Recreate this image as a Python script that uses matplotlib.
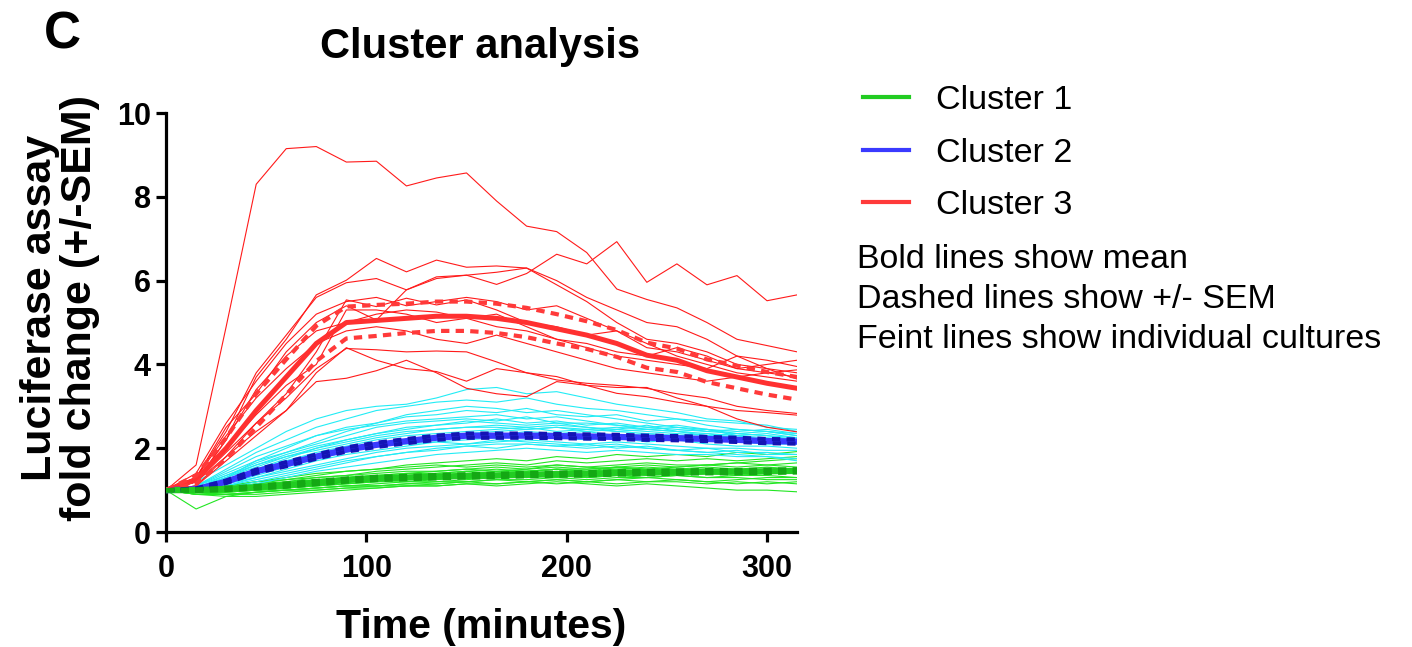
import matplotlib
matplotlib.use("Agg")
import matplotlib.pyplot as plt
from matplotlib.lines import Line2D
import numpy as np

plt.rcParams['font.family'] = ['Liberation Sans', 'DejaVu Sans']

time_min = [0, 15, 30, 45, 60, 75, 90, 105, 120, 135, 150, 165, 180, 195, 210, 225, 240, 255, 270, 285, 300, 315]

# Cluster 3 (red) individual cultures
cluster3_lines = [
    [1.0, 1.6, 4.9, 8.3, 9.15, 9.2, 8.83, 8.85, 8.26, 8.45, 8.57, 7.9, 7.3, 7.17, 6.67, 5.8, 5.55, 5.35, 5.0, 4.6, 4.45, 4.3],
    [1.0, 1.3, 2.4, 3.8, 4.7, 5.6, 5.95, 6.05, 5.78, 6.05, 6.13, 5.91, 6.17, 6.63, 6.4, 6.93, 5.96, 6.4, 5.9, 6.12, 5.52, 5.66],
    [1.0, 1.2, 2.2, 3.7, 4.6, 5.66, 6.01, 6.53, 6.21, 6.49, 6.32, 6.35, 6.3, 6.0, 5.6, 5.3, 5.0, 4.9, 4.6, 4.2, 3.9, 3.65],
    [1.0, 1.3, 2.5, 3.3, 4.3, 5.0, 5.4, 5.06, 5.78, 6.09, 6.13, 6.2, 6.3, 5.9, 5.5, 5.0, 4.6, 4.5, 4.3, 4.0, 3.9, 3.8],
    [1.0, 1.1, 1.8, 2.6, 3.3, 4.3, 5.54, 5.38, 5.58, 5.42, 5.54, 5.3, 5.0, 4.9, 4.7, 4.8, 4.5, 4.2, 4.0, 3.8, 3.7, 3.6],
    [1.0, 1.2, 2.0, 2.8, 3.5, 4.0, 5.3, 5.3, 5.2, 5.0, 5.1, 5.2, 4.9, 4.6, 4.4, 4.2, 4.1, 4.0, 3.9, 4.2, 4.1, 3.95],
    [1.0, 1.3, 2.3, 3.2, 3.9, 4.5, 4.8, 4.9, 4.8, 4.6, 4.5, 4.7, 4.5, 4.3, 4.1, 3.9, 3.8, 3.7, 3.6, 3.7, 3.8, 3.87],
    [1.0, 1.2, 1.9, 2.6, 3.2, 3.9, 4.38, 4.35, 4.3, 4.32, 4.3, 4.06, 3.8, 3.71, 3.5, 3.31, 3.23, 3.1, 3.0, 2.9, 2.85, 2.79],
    [1.0, 1.1, 1.7, 2.3, 2.9, 3.8, 4.4, 4.1, 3.9, 3.83, 3.6, 3.9, 3.8, 3.63, 3.55, 3.5, 3.43, 3.3, 3.2, 3.0, 2.9, 2.83],
    [1.0, 1.2, 1.8, 2.4, 2.9, 3.59, 3.67, 3.85, 4.1, 3.8, 3.43, 3.3, 3.23, 3.59, 3.5, 3.45, 3.45, 3.2, 3.0, 2.7, 2.5, 2.39],
    [1.0, 1.4, 2.6, 3.6, 4.5, 5.2, 5.5, 5.6, 5.4, 5.5, 5.6, 5.5, 5.3, 5.4, 5.1, 4.8, 4.4, 4.3, 4.1, 3.9, 3.8, 3.7],
    [1.0, 1.2, 2.2, 3.4, 4.2, 4.8, 5.0, 5.2, 5.3, 5.25, 5.1, 4.9, 4.8, 4.6, 4.5, 4.3, 4.2, 4.4, 4.2, 3.9, 4.0, 4.1],
]

# Cluster 2 (cyan) individual cultures
cluster2_lines = [
    [1.0, 1.2, 1.6, 2.0, 2.4, 2.7, 2.9, 3.0, 3.05, 3.2, 3.4, 3.45, 3.3, 3.35, 3.2, 3.05, 2.95, 2.85, 2.7, 2.65, 2.5, 2.45],
    [1.0, 1.1, 1.5, 1.9, 2.2, 2.5, 2.7, 2.9, 3.0, 3.1, 3.15, 3.1, 3.2, 3.05, 2.95, 2.9, 2.8, 2.7, 2.65, 2.6, 2.55, 2.4],
    [1.0, 1.05, 1.3, 1.7, 2.0, 2.3, 2.5, 2.6, 2.75, 2.8, 2.9, 2.85, 2.95, 2.8, 2.75, 2.8, 2.65, 2.7, 2.55, 2.45, 2.4, 2.35],
    [1.0, 1.1, 1.4, 1.7, 1.9, 2.1, 2.3, 2.5, 2.6, 2.65, 2.7, 2.65, 2.75, 2.6, 2.6, 2.55, 2.5, 2.45, 2.4, 2.35, 2.3, 2.25],
    [1.0, 1.0, 1.25, 1.5, 1.75, 2.0, 2.2, 2.35, 2.5, 2.55, 2.6, 2.7, 2.6, 2.65, 2.55, 2.6, 2.5, 2.55, 2.45, 2.4, 2.45, 2.35],
    [1.0, 1.05, 1.3, 1.55, 1.8, 1.95, 2.1, 2.25, 2.35, 2.45, 2.5, 2.5, 2.45, 2.5, 2.4, 2.45, 2.4, 2.35, 2.3, 2.35, 2.3, 2.2],
    [1.0, 1.0, 1.2, 1.45, 1.7, 1.9, 2.05, 2.2, 2.3, 2.35, 2.4, 2.45, 2.5, 2.4, 2.45, 2.4, 2.35, 2.3, 2.35, 2.25, 2.2, 2.15],
    [1.0, 1.0, 1.15, 1.35, 1.55, 1.75, 1.9, 2.05, 2.15, 2.25, 2.3, 2.35, 2.3, 2.35, 2.3, 2.25, 2.3, 2.2, 2.2, 2.15, 2.1, 2.1],
    [1.0, 0.95, 1.1, 1.3, 1.5, 1.7, 1.85, 1.95, 2.05, 2.15, 2.2, 2.25, 2.3, 2.25, 2.2, 2.25, 2.15, 2.2, 2.1, 2.05, 2.05, 2.0],
    [1.0, 1.0, 1.15, 1.3, 1.45, 1.6, 1.75, 1.9, 2.0, 2.05, 2.1, 2.15, 2.2, 2.15, 2.1, 2.15, 2.1, 2.05, 2.0, 2.0, 1.95, 1.95],
    [1.0, 0.95, 1.05, 1.2, 1.35, 1.5, 1.65, 1.8, 1.9, 1.95, 2.05, 2.1, 2.1, 2.05, 2.1, 2.0, 2.05, 1.95, 1.9, 1.95, 1.85, 1.85],
    [1.0, 0.95, 1.05, 1.15, 1.3, 1.45, 1.55, 1.65, 1.75, 1.85, 1.9, 1.95, 2.0, 1.95, 1.9, 1.95, 1.9, 1.85, 1.85, 1.8, 1.8, 1.75],
    [1.0, 1.05, 1.35, 1.65, 1.9, 2.15, 2.4, 2.6, 2.8, 2.9, 3.0, 2.95, 2.85, 2.9, 2.8, 2.7, 2.6, 2.5, 2.45, 2.3, 2.25, 2.2],
    [1.0, 1.1, 1.45, 1.8, 2.05, 2.3, 2.45, 2.55, 2.65, 2.7, 2.75, 2.8, 2.7, 2.75, 2.65, 2.55, 2.45, 2.4, 2.3, 2.25, 2.2, 2.1],
    [1.0, 1.0, 1.2, 1.4, 1.6, 1.8, 1.95, 2.05, 2.1, 2.15, 2.1, 2.2, 2.15, 2.1, 2.05, 2.1, 2.0, 1.95, 1.9, 1.85, 1.8, 1.7],
    [1.0, 1.05, 1.25, 1.5, 1.7, 1.85, 2.0, 2.1, 2.2, 2.3, 2.35, 2.4, 2.45, 2.5, 2.45, 2.5, 2.45, 2.5, 2.4, 2.45, 2.4, 2.3],
    [1.0, 1.0, 1.2, 1.45, 1.65, 1.8, 1.95, 2.1, 2.2, 2.3, 2.35, 2.3, 2.4, 2.35, 2.4, 2.3, 2.35, 2.3, 2.25, 2.3, 2.2, 2.25],
    [1.0, 1.05, 1.3, 1.6, 1.85, 2.05, 2.2, 2.35, 2.45, 2.55, 2.65, 2.6, 2.55, 2.6, 2.5, 2.45, 2.55, 2.4, 2.45, 2.35, 2.4, 2.3],
    [1.0, 1.0, 1.1, 1.25, 1.4, 1.55, 1.7, 1.8, 1.9, 2.0, 2.05, 2.0, 2.1, 2.05, 2.0, 2.05, 2.0, 1.95, 2.0, 1.9, 1.9, 1.85],
    [1.0, 1.1, 1.35, 1.6, 1.8, 2.0, 2.15, 2.3, 2.4, 2.45, 2.5, 2.55, 2.5, 2.55, 2.5, 2.4, 2.45, 2.4, 2.35, 2.3, 2.35, 2.25],
]

# Cluster 1 (green) individual cultures
cluster1_lines = [
    [1.0, 0.55, 0.85, 0.95, 1.0, 1.05, 1.1, 1.1, 1.15, 1.2, 1.2, 1.25, 1.2, 1.25, 1.2, 1.25, 1.3, 1.25, 1.2, 1.25, 1.3, 1.3],
    [1.0, 1.0, 1.05, 1.15, 1.25, 1.35, 1.45, 1.5, 1.6, 1.65, 1.7, 1.75, 1.7, 1.8, 1.75, 1.85, 1.8, 1.85, 1.8, 1.9, 1.85, 1.92],
    [1.0, 1.0, 1.05, 1.1, 1.2, 1.3, 1.35, 1.45, 1.5, 1.55, 1.6, 1.65, 1.6, 1.7, 1.65, 1.7, 1.75, 1.7, 1.75, 1.7, 1.75, 1.8],
    [1.0, 0.95, 1.0, 1.05, 1.15, 1.2, 1.3, 1.35, 1.4, 1.45, 1.5, 1.55, 1.5, 1.6, 1.55, 1.6, 1.65, 1.6, 1.6, 1.65, 1.6, 1.65],
    [1.0, 0.95, 0.95, 1.0, 1.1, 1.15, 1.2, 1.25, 1.3, 1.35, 1.4, 1.45, 1.45, 1.5, 1.5, 1.55, 1.5, 1.55, 1.6, 1.55, 1.6, 1.55],
    [1.0, 0.9, 0.9, 0.95, 1.0, 1.05, 1.1, 1.15, 1.2, 1.2, 1.25, 1.3, 1.3, 1.35, 1.3, 1.35, 1.4, 1.35, 1.4, 1.35, 1.4, 1.4],
    [1.0, 0.9, 0.85, 0.85, 0.9, 0.95, 1.0, 1.05, 1.1, 1.1, 1.15, 1.1, 1.15, 1.2, 1.15, 1.1, 1.15, 1.1, 1.05, 1.0, 1.0, 0.96],
    [1.0, 1.0, 1.1, 1.2, 1.3, 1.4, 1.45, 1.5, 1.55, 1.6, 1.55, 1.6, 1.55, 1.6, 1.55, 1.5, 1.55, 1.5, 1.5, 1.45, 1.5, 1.45],
    [1.0, 0.95, 0.95, 1.0, 1.05, 1.1, 1.15, 1.2, 1.25, 1.3, 1.3, 1.35, 1.3, 1.35, 1.3, 1.35, 1.3, 1.35, 1.3, 1.3, 1.25, 1.25],
    [1.0, 1.0, 1.0, 1.05, 1.1, 1.15, 1.2, 1.25, 1.3, 1.3, 1.35, 1.4, 1.4, 1.45, 1.4, 1.45, 1.5, 1.45, 1.5, 1.5, 1.45, 1.5],
    [1.0, 0.9, 0.9, 0.9, 0.95, 1.0, 1.05, 1.1, 1.1, 1.15, 1.2, 1.15, 1.2, 1.25, 1.2, 1.25, 1.2, 1.25, 1.2, 1.15, 1.2, 1.15],
    [1.0, 1.05, 1.1, 1.2, 1.25, 1.3, 1.35, 1.4, 1.45, 1.45, 1.5, 1.45, 1.5, 1.55, 1.5, 1.55, 1.6, 1.55, 1.6, 1.65, 1.7, 1.75],
    [1.0, 0.95, 1.0, 1.0, 1.05, 1.1, 1.15, 1.2, 1.2, 1.25, 1.3, 1.3, 1.35, 1.3, 1.4, 1.35, 1.4, 1.45, 1.4, 1.45, 1.5, 1.45],
    [1.0, 0.9, 0.95, 1.0, 1.0, 1.05, 1.1, 1.1, 1.15, 1.15, 1.2, 1.25, 1.25, 1.3, 1.25, 1.3, 1.3, 1.35, 1.3, 1.35, 1.35, 1.3],
    [1.0, 1.0, 1.05, 1.15, 1.2, 1.25, 1.3, 1.35, 1.4, 1.4, 1.45, 1.5, 1.45, 1.5, 1.45, 1.5, 1.45, 1.5, 1.55, 1.5, 1.55, 1.5],
    [1.0, 0.95, 0.9, 0.95, 1.0, 1.0, 1.05, 1.05, 1.1, 1.1, 1.15, 1.15, 1.2, 1.15, 1.2, 1.15, 1.2, 1.2, 1.15, 1.2, 1.15, 1.2],
    [1.0, 1.0, 1.05, 1.1, 1.15, 1.25, 1.3, 1.35, 1.35, 1.4, 1.45, 1.4, 1.45, 1.5, 1.45, 1.55, 1.5, 1.45, 1.5, 1.45, 1.4, 1.4],
    [1.0, 0.95, 1.0, 1.05, 1.1, 1.15, 1.2, 1.25, 1.25, 1.3, 1.35, 1.35, 1.4, 1.4, 1.35, 1.4, 1.35, 1.4, 1.45, 1.4, 1.45, 1.45],
]

# Cluster means and SEM
cluster3_mean = [1.0, 1.25, 2.0, 2.9, 3.7, 4.5, 5.0, 5.05, 5.1, 5.15, 5.15, 5.1, 5.0, 4.85, 4.7, 4.5, 4.22, 4.1, 3.85, 3.7, 3.55, 3.43]
cluster3_sem = [0.0, 0.1, 0.25, 0.4, 0.42, 0.42, 0.38, 0.37, 0.35, 0.35, 0.35, 0.35, 0.35, 0.35, 0.33, 0.32, 0.3, 0.28, 0.27, 0.27, 0.27, 0.27]
cluster2_mean = [1.0, 1.02, 1.2, 1.45, 1.62, 1.8, 1.97, 2.08, 2.17, 2.25, 2.3, 2.3, 2.3, 2.29, 2.28, 2.27, 2.25, 2.24, 2.22, 2.2, 2.17, 2.16]
cluster2_sem = [0.0, 0.02, 0.03, 0.04, 0.05, 0.05, 0.05, 0.05, 0.05, 0.05, 0.05, 0.05, 0.05, 0.05, 0.05, 0.05, 0.05, 0.05, 0.05, 0.05, 0.05, 0.05]
cluster1_mean = [1.0, 1.0, 1.03, 1.07, 1.12, 1.18, 1.24, 1.28, 1.3, 1.32, 1.34, 1.35, 1.37, 1.38, 1.39, 1.41, 1.42, 1.43, 1.44, 1.44, 1.45, 1.46]
cluster1_sem = [0.0, 0.02, 0.03, 0.03, 0.04, 0.04, 0.04, 0.04, 0.04, 0.04, 0.04, 0.04, 0.04, 0.04, 0.04, 0.04, 0.04, 0.04, 0.04, 0.04, 0.04, 0.04]

legend_labels = ["Cluster 1", "Cluster 2", "Cluster 3"]
note_lines = ["Bold lines show mean", "Dashed lines show +/- SEM", "Feint lines show individual cultures"]

fig = plt.figure(figsize=(14.12, 6.47), dpi=100)
ax = fig.add_axes([0.1176, 0.1777, 0.4469, 0.6476])

t = np.array(time_min)
for ln in cluster1_lines:
    ax.plot(t, ln, color='#22e622', lw=0.8, zorder=2)
for ln in cluster2_lines:
    ax.plot(t, ln, color='#22ecf5', lw=0.8, zorder=2)
for ln in cluster3_lines:
    ax.plot(t, ln, color='#ff1a1a', lw=0.8, zorder=3)

def draw_mean(mean, sem, mcol, dcol, lw_mean, lw_sem):
    m = np.array(mean)
    s = np.array(sem)
    ax.plot(t, m, color=mcol, lw=lw_mean, zorder=5, solid_capstyle='round')
    ax.plot(t, m + s, color=dcol, lw=lw_sem, ls=(0, (2, 1.5)), zorder=6)
    ax.plot(t, m - s, color=dcol, lw=lw_sem, ls=(0, (2, 1.5)), zorder=6)

draw_mean(cluster3_mean, cluster3_sem, '#ff3030', '#ff3a3a', 3.6, 3.0)
draw_mean(cluster2_mean, cluster2_sem, '#3a3aff', '#1414b4', 4.5, 3.0)
draw_mean(cluster1_mean, cluster1_sem, '#22cc22', '#14a814', 4.5, 3.0)

ax.set_xlim(0, 315)
ax.set_ylim(0, 10)
ax.set_xticks([0, 100, 200, 300])
ax.set_yticks([0, 2, 4, 6, 8, 10])
for sp in ['top', 'right']:
    ax.spines[sp].set_visible(False)
for sp in ['left', 'bottom']:
    ax.spines[sp].set_linewidth(2.3)
ax.tick_params(axis='both', which='major', length=7, width=2.3, labelsize=22)
ax.tick_params(axis='x', pad=9)
ax.tick_params(axis='y', pad=4)
for lab in ax.get_xticklabels() + ax.get_yticklabels():
    lab.set_fontweight('bold')

ax.set_xlabel("Time (minutes)", fontsize=29.5, fontweight='bold', labelpad=17)
ax.set_ylabel("Luciferase assay\nfold change (+/-SEM)", fontsize=31, fontweight='bold',
              labelpad=10, linespacing=1.0)
ax.yaxis.set_label_coords(-0.105, 0.535)

fig.text(0.031, 0.925, "C", fontsize=37, fontweight='bold', ha='left', va='baseline')
fig.text(0.340, 0.910, "Cluster analysis", fontsize=30, fontweight='bold', ha='center', va='baseline')

handles = [Line2D([0], [0], color='#22cc22', lw=3),
           Line2D([0], [0], color='#3a3aff', lw=3),
           Line2D([0], [0], color='#ff3a3a', lw=3)]
fig.legend(handles, legend_labels, loc='upper left', bbox_to_anchor=(0.611, 0.869),
           frameon=False, fontsize=24.5, handlelength=1.35, handletextpad=0.8, labelspacing=0.64,
           borderaxespad=0, borderpad=0)

for i, txt in enumerate(note_lines):
    fig.text(0.607, 0.599 - i * 0.0618, txt, fontsize=24.5, ha='left', va='center')

fig.savefig("out.png", dpi=100)
